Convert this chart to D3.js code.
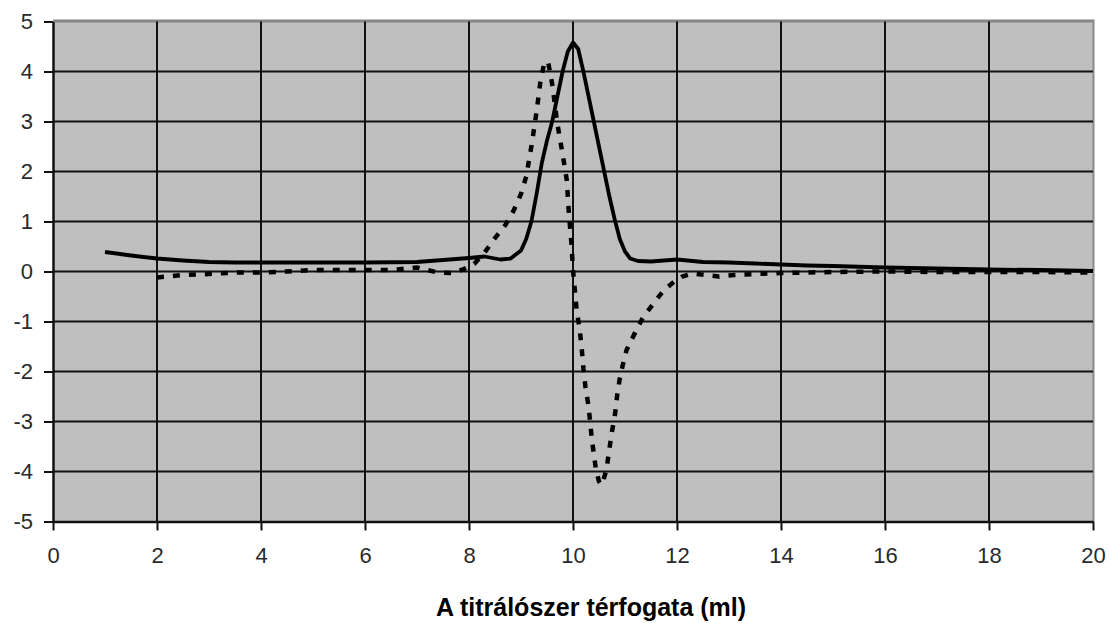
<!DOCTYPE html>
<html>
<head>
<meta charset="utf-8">
<script src="https://cdn.jsdelivr.net/npm/d3@7"></script>
<style>
  html, body { margin: 0; padding: 0; background: #ffffff; }
  svg { display: block; }
  text { font-family: "Liberation Sans", Arial, sans-serif; }
</style>
</head>
<body>
<svg id="chart" width="1110" height="623"></svg>
<script>
// ---- Data ----
const solidX = [1, 1.5, 2, 2.5, 3, 3.5, 4, 5, 6, 7, 7.5, 8, 8.3, 8.6, 8.8, 9.0, 9.1, 9.2, 9.3, 9.4, 9.5, 9.6, 9.7, 9.8, 9.9, 10.0, 10.1, 10.2, 10.3, 10.4, 10.5, 10.6, 10.7, 10.8, 10.9, 11.0, 11.1, 11.25, 11.5, 12, 12.5, 13, 13.5, 14, 14.5, 15, 16, 17, 18, 19, 20];
const solidY = [0.39, 0.32, 0.26, 0.22, 0.19, 0.18, 0.18, 0.18, 0.18, 0.19, 0.23, 0.27, 0.3, 0.24, 0.26, 0.42, 0.65, 1.0, 1.55, 2.17, 2.62, 3.0, 3.5, 4.0, 4.4, 4.58, 4.45, 4.0, 3.5, 3.0, 2.5, 2.0, 1.5, 1.05, 0.65, 0.4, 0.26, 0.21, 0.2, 0.24, 0.19, 0.18, 0.16, 0.14, 0.12, 0.11, 0.08, 0.06, 0.04, 0.03, 0.01];

const dottedX = [2, 2.5, 3, 3.5, 4, 4.5, 5, 5.5, 6, 6.5, 7, 7.4, 7.7, 7.9, 8.1, 8.3, 8.5, 8.7, 8.85, 9.0, 9.1, 9.2, 9.3, 9.38, 9.45, 9.52, 9.6, 9.7, 9.8, 9.88, 9.92, 9.97, 10.0, 10.07, 10.13, 10.17, 10.2, 10.24, 10.29, 10.33, 10.36, 10.4, 10.44, 10.5, 10.55, 10.62, 10.66, 10.71, 10.75, 10.81, 10.85, 10.9, 10.95, 11.03, 11.2, 11.35, 11.55, 11.75, 11.95, 12.1, 12.3, 12.8, 13.1, 13.5, 14, 15, 16, 17, 18, 19, 20];
const dottedY = [-0.12, -0.07, -0.05, -0.02, -0.02, 0.0, 0.03, 0.03, 0.03, 0.03, 0.08, -0.02, -0.03, 0.05, 0.15, 0.38, 0.67, 0.93, 1.2, 1.55, 1.9, 2.5, 3.2, 3.85, 4.17, 4.2, 3.75, 2.95, 2.35, 1.83, 1.17, 0.56, 0.03, -0.77, -1.17, -1.57, -1.94, -2.31, -2.64, -3.0, -3.34, -3.64, -3.95, -4.2, -4.27, -4.05, -3.84, -3.48, -3.2, -2.84, -2.47, -2.14, -1.9, -1.57, -1.21, -0.91, -0.64, -0.37, -0.2, -0.1, -0.04, -0.1, -0.07, -0.05, -0.03, -0.01, 0.0, -0.01, -0.01, -0.01, -0.02];

const xTicks = [0, 2, 4, 6, 8, 10, 12, 14, 16, 18, 20];
const yTicks = [5, 4, 3, 2, 1, 0, -1, -2, -3, -4, -5];
const xTitle = "A titrálószer térfogata (ml)";

// ---- Layout ----
const W = 1110, H = 623;
const plot = { left: 53, right: 1093, top: 21.5, bottom: 521.5 };

const svg = d3.select("#chart");
const x = d3.scaleLinear().domain([0, 20]).range([plot.left, plot.right]);
const y = d3.scaleLinear().domain([-5, 5]).range([plot.bottom, plot.top]);

// dotted texture pattern for plot background
const defs = svg.append("defs");
const pat = defs.append("pattern").attr("id", "bgpat")
  .attr("patternUnits", "userSpaceOnUse").attr("width", 4).attr("height", 4);
pat.append("rect").attr("width", 4).attr("height", 4).attr("fill", "#c0c0c0");
pat.append("rect").attr("x", 0).attr("y", 0).attr("width", 1).attr("height", 1).attr("fill", "#b3b8b3");
pat.append("rect").attr("x", 2).attr("y", 2).attr("width", 1).attr("height", 1).attr("fill", "#b9bdb9");

defs.append("clipPath").attr("id", "clip").append("rect")
  .attr("x", plot.left).attr("y", plot.top - 5)
  .attr("width", plot.right - plot.left).attr("height", plot.bottom - plot.top + 10);

svg.append("rect")
  .attr("x", plot.left).attr("y", plot.top)
  .attr("width", plot.right - plot.left).attr("height", plot.bottom - plot.top)
  .attr("fill", "url(#bgpat)");

// top and right border (gray)
svg.append("line").attr("x1", plot.left).attr("x2", plot.right + 1)
  .attr("y1", plot.top - 0.5).attr("y2", plot.top - 0.5)
  .attr("stroke", "#858585").attr("stroke-width", 3);
svg.append("line").attr("x1", plot.right + 0.5).attr("x2", plot.right + 0.5)
  .attr("y1", plot.top - 2).attr("y2", plot.bottom)
  .attr("stroke", "#8a8a8a").attr("stroke-width", 2);

// gridlines
const grid = svg.append("g");
grid.selectAll("line.h").data(yTicks.filter(v => v > -5 && v < 5)).join("line")
  .attr("x1", plot.left).attr("x2", plot.right)
  .attr("y1", d => y(d)).attr("y2", d => y(d))
  .attr("stroke", "#111").attr("stroke-width", 2);
grid.selectAll("line.v").data(xTicks.filter(v => v > 0 && v < 20)).join("line")
  .attr("x1", d => x(d)).attr("x2", d => x(d))
  .attr("y1", plot.top).attr("y2", plot.bottom)
  .attr("stroke", "#111").attr("stroke-width", 2);

// series
const lineGen = d3.line().x(d => x(d[0])).y(d => y(d[1])).curve(d3.curveLinear);
const solidData = solidX.map((v, i) => [v, solidY[i]]);
const dottedData = dottedX.map((v, i) => [v, dottedY[i]]);

const series = svg.append("g").attr("clip-path", "url(#clip)");
series.append("path").datum(dottedData)
  .attr("d", lineGen).attr("fill", "none")
  .attr("stroke", "#000").attr("stroke-width", 4.5)
  .attr("stroke-dasharray", "7,9").attr("stroke-linejoin", "miter");
series.append("path").datum(solidData)
  .attr("d", lineGen).attr("fill", "none")
  .attr("stroke", "#000").attr("stroke-width", 3.8)
  .attr("stroke-linejoin", "round");

// axes (hyphen-minus labels, as in the reference)
const fmt = d => String(d);
const yAxis = d3.axisLeft(y).tickValues(yTicks).tickSize(9).tickSizeOuter(0).tickPadding(11)
  .tickFormat(fmt);
const gy = svg.append("g").attr("transform", `translate(${plot.left},0)`).call(yAxis);
gy.select(".domain").attr("stroke", "#111").attr("stroke-width", 2.5);
gy.selectAll(".tick line").attr("stroke", "#111").attr("stroke-width", 2);
gy.selectAll(".tick text").attr("font-size", 22).attr("fill", "#2a2a2a")
  .attr("font-family", "'Liberation Sans', Arial, sans-serif");

const xAxis = d3.axisBottom(x).tickValues(xTicks).tickSize(9).tickSizeOuter(0).tickPadding(17)
  .tickFormat(fmt);
const gx = svg.append("g").attr("transform", `translate(0,${plot.bottom})`).call(xAxis);
gx.select(".domain").attr("stroke", "#111").attr("stroke-width", 2.5);
gx.selectAll(".tick line").attr("stroke", "#111").attr("stroke-width", 2);
gx.selectAll(".tick text").attr("font-size", 22).attr("fill", "#2a2a2a")
  .attr("font-family", "'Liberation Sans', Arial, sans-serif");

// axis title
svg.append("text")
  .attr("x", 591).attr("y", 616)
  .attr("text-anchor", "middle")
  .attr("font-size", 25).attr("font-weight", "bold").attr("fill", "#000")
  .text(xTitle);
</script>
</body>
</html>
